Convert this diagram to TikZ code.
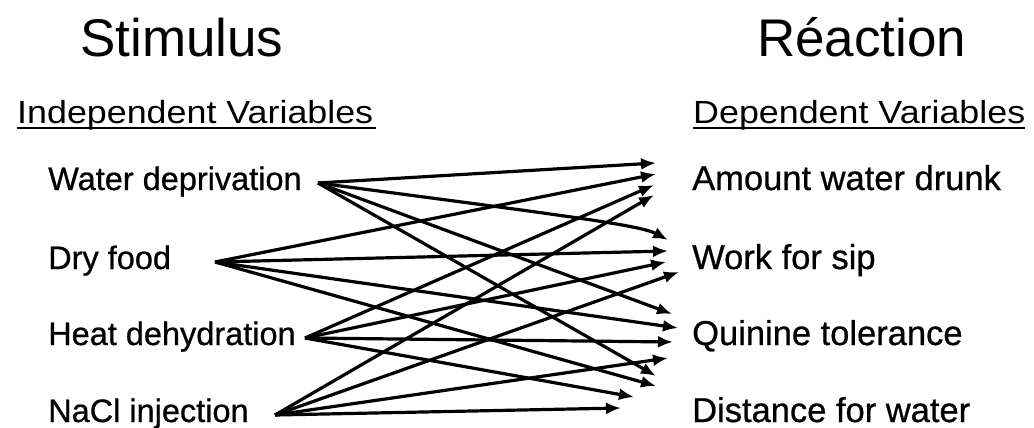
\documentclass[tikz,border=0pt]{standalone}
\usepackage{fontspec}
\usepackage{graphicx}
\setmainfont{Liberation Sans}
\newfontfamily\labfont[FakeBold=0.7]{Liberation Sans}
\usetikzlibrary{arrows.meta}
\tikzset{
  big/.style={inner sep=0pt, anchor=base west, font=\fontsize{53}{60}\selectfont},
  head/.style={inner sep=0pt, anchor=base west, font=\fontsize{32}{38}\selectfont},
  lab/.style={inner sep=0pt, anchor=base west, font=\labfont\fontsize{32.5}{38}\selectfont},
  rlab/.style={inner sep=0pt, anchor=base west, font=\labfont\fontsize{34.5}{40}\selectfont},
  uline/.style={line width=1.8pt},
  arr/.style={line width=3.2pt, -{Latex[length=15pt,width=12pt]}}
}
\begin{document}
\begin{tikzpicture}[x=1pt,y=-1pt]
\useasboundingbox (0,0) rectangle (1034,428);
% titles
\node[big] (stim) at (80,57) {Stimulus};
\node[big] (reac) at (757,57) {Réaction};
\node[head] (indep) at (17,123) {\scalebox{1.12}[1]{Independent Variables}};
\node[head] (dep) at (693,123) {\scalebox{1.12}[1]{Dependent Variables}};
\draw[uline] ([yshift=-5pt]indep.base west) -- ([yshift=-5pt,xshift=3pt]indep.base east);
\draw[uline] ([yshift=-5pt]dep.base west) -- ([yshift=-5pt]dep.base east);
% left labels
\node[lab] (wd) at (48,190) {Water deprivation};
\node[lab] (df) at (48,269) {Dry food};
\node[lab] (hd) at (48,345) {Heat dehydration};
\node[lab] (na) at (48,422) {NaCl injection};
% right labels
\node[rlab] (am) at (692,190) {Amount water drunk};
\node[rlab] (ws) at (692,269) {Work for sip};
\node[rlab] (qt) at (692,345) {Quinine tolerance};
\node[rlab] (dw) at (692,422) {Distance for water};
% start points
\coordinate (s1) at (318,183);
\coordinate (s2) at (215,262);
\coordinate (s3) at (305,338);
\coordinate (s4) at (275,415);
% end points
\coordinate (a1) at (656,163);
\coordinate (a2) at (656,174);
\coordinate (a3) at (654,185);
\coordinate (a4) at (654,195);
\coordinate (w1) at (668,240);
\coordinate (w2) at (668,251);
\coordinate (w3) at (666,262);
\coordinate (w4) at (679,272);
\coordinate (q1) at (672,314);
\coordinate (q2) at (678,328);
\coordinate (q3) at (673,342);
\coordinate (q4) at (668,358);
\coordinate (d1) at (656,376);
\coordinate (d2) at (656,386);
\coordinate (d3) at (634,397);
\coordinate (d4) at (621,408);
% arrows
\draw[arr] (s1) -- (a1);
\draw[arr] (s1) .. controls (560,215) and (640,225) .. (w1);
\draw[arr] (s1) -- (q1);
\draw[arr] (s1) -- (d1);
\draw[arr] (s2) -- (a2);
\draw[arr] (s2) -- (w2);
\draw[arr] (s2) -- (q2);
\draw[arr] (s2) -- (d2);
\draw[arr] (s3) -- (a3);
\draw[arr] (s3) -- (w3);
\draw[arr] (s3) -- (q3);
\draw[arr] (s3) -- (d3);
\draw[arr] (s4) -- (a4);
\draw[arr] (s4) -- (w4);
\draw[arr] (s4) -- (q4);
\draw[arr] (s4) -- (d4);
\end{tikzpicture}
\end{document}
